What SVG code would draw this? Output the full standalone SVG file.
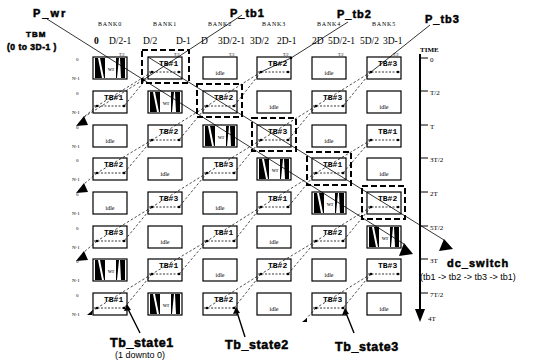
<svg xmlns="http://www.w3.org/2000/svg" width="539" height="364" viewBox="0 0 539 364">
<style>
.bx{fill:#fff;stroke:#000;stroke-width:1.2}
.tb{font-family:"Liberation Mono",monospace;font-weight:bold;font-size:8px;fill:#000}
.it,.wt{font-family:"Liberation Serif",serif;font-size:6px;text-anchor:middle;fill:#000}
.tt{font-family:"Liberation Serif",serif;font-size:4px;fill:#000}
.dl{stroke:#000;stroke-width:0.8;stroke-dasharray:2 1.5}
.dt{fill:#000}
.rl{font-family:"Liberation Serif",serif;font-size:5px;fill:#000}
.hd{font-family:"Liberation Serif",serif;font-size:6px;letter-spacing:0.8px;text-anchor:middle;fill:#000}
.ad{font-family:"Liberation Serif",serif;font-size:9.5px;fill:#000}
.ax{font-family:"Liberation Serif",serif;font-size:7px;fill:#000}
.big{font-family:"Liberation Sans",Arial,sans-serif;font-weight:bold;fill:#000;stroke:#000;stroke-width:0.5}
.sm{font-family:"Liberation Sans",Arial,sans-serif;font-size:9px;fill:#000}
.ch{fill:none;stroke:#000;stroke-width:0.7;stroke-dasharray:2.5 2}
.sl{fill:none;stroke:#000;stroke-width:0.8}
.tp{fill:none;stroke:#000;stroke-width:1.4}
.hl{fill:none;stroke:#000;stroke-width:2;stroke-dasharray:6 3}
.ah{fill:#000}
</style>
<defs>
<g id="wrm">
<path fill="#000" d="M2,1 L5,1 L9,21 L2,21 Z M7,1 L12,1 L12,21 L11,21 Z M23,1 L26,1 L24,21 L23,21 Z M27,1 L32,1 L32,21 L28,21 Z"/>
</g>
</defs>

<!-- labels -->
<g id="labels">
<text class="big" x="33" y="17" font-size="11" letter-spacing="2">P_wr</text>
<text class="big" x="26" y="37" font-size="8" letter-spacing="1">TBM</text>
<text class="big" x="7" y="50" font-size="8.5" letter-spacing="0.5">(0 to 3D-1 )</text>
<text class="big" x="230" y="17" font-size="11" letter-spacing="1">P_tb1</text>
<text class="big" x="337" y="18" font-size="11" letter-spacing="1">P_tb2</text>
<text class="big" x="425" y="23" font-size="11" letter-spacing="1">P_tb3</text>
<text class="big" x="447" y="267" font-size="11" letter-spacing="1">dc_switch</text>
<text class="sm" x="420" y="280">(tb1 -&gt; tb2 -&gt; tb3 -&gt; tb1)</text>
<text class="big" x="110" y="347" font-size="12.5" letter-spacing="0.6">Tb_state1</text>
<text class="sm" x="115" y="358">(1 downto 0)</text>
<text class="big" x="225" y="349" font-size="12.5" letter-spacing="0.6">Tb_state2</text>
<text class="big" x="335" y="351" font-size="12.5" letter-spacing="0.6">Tb_state3</text>
<text class="hd" x="110" y="26">BANK0</text>
<text class="hd" x="165" y="26">BANK1</text>
<text class="hd" x="220" y="26">BANK2</text>
<text class="hd" x="274" y="26">BANK3</text>
<text class="hd" x="329" y="26">BANK4</text>
<text class="hd" x="384" y="26">BANK5</text>
<text class="ad" x="94" y="44" font-weight="bold">0</text>
<text class="ad" x="109" y="44">D/2-1</text>
<text class="ad" x="143" y="44">D/2</text>
<text class="ad" x="176" y="44">D-1</text>
<text class="ad" x="201" y="44">D</text>
<text class="ad" x="218" y="44">3D/2-1</text>
<text class="ad" x="250" y="44">3D/2</text>
<text class="ad" x="277" y="44">2D-1</text>
<text class="ad" x="312" y="44">2D</text>
<text class="ad" x="328" y="44">5D/2-1</text>
<text class="ad" x="360" y="44">5D/2</text>
<text class="ad" x="383" y="44">3D-1</text>
<text class="rl" x="76" y="61">0</text><text class="rl" x="72" y="80">N-1</text>
<text class="rl" x="76" y="95">0</text><text class="rl" x="72" y="114">N-1</text>
<text class="rl" x="76" y="129">0</text><text class="rl" x="72" y="148">N-1</text>
<text class="rl" x="76" y="162">0</text><text class="rl" x="72" y="181">N-1</text>
<text class="rl" x="76" y="196">0</text><text class="rl" x="72" y="215">N-1</text>
<text class="rl" x="76" y="230">0</text><text class="rl" x="72" y="249">N-1</text>
<text class="rl" x="76" y="263">0</text><text class="rl" x="72" y="282">N-1</text>
<text class="rl" x="76" y="297">0</text><text class="rl" x="72" y="316">N-1</text>
</g>

<!-- time axis -->
<g id="time-axis">
<text class="ax" x="420" y="52" font-size="5.5" font-weight="bold">TIME</text>
<line x1="420" y1="54" x2="420" y2="312" stroke="#000" stroke-width="2"/>
<polygon class="ah" points="415,309 425,309 420,322"/>
<path d="M420,58 H428 M420,91 H428 M420,125 H428 M420,158 H428 M420,192 H428 M420,226 H428 M420,259 H428 M420,293 H428" stroke="#000" stroke-width="1.2"/>
<text class="ax" x="430" y="62">0</text>
<text class="ax" x="430" y="95">T/2</text>
<text class="ax" x="430" y="129">T</text>
<text class="ax" x="430" y="162">3T/2</text>
<text class="ax" x="430" y="196">2T</text>
<text class="ax" x="430" y="230">5T/2</text>
<text class="ax" x="430" y="263">3T</text>
<text class="ax" x="430" y="297">7T/2</text>
<text class="ax" x="428" y="321">4T</text>
</g>

<!-- row 0 -->
<g id="r0c0" transform="translate(93,57)"><rect class="bx" width="34" height="22"/><use href="#wrm"/><text class="wt" x="18" y="14">wr</text><text class="tt" x="26" y="-1">T/2</text></g>
<g id="r0c1" transform="translate(148,57)"><rect class="bx" width="34" height="22"/><text class="tb" x="11" y="9">TB#1</text><line class="dl" x1="1" y1="15" x2="33" y2="15"/><circle class="dt" cx="4" cy="15" r="1.3"/><circle class="dt" cx="31" cy="15" r="1.3"/><text class="tt" x="26" y="-1">T/2</text></g>
<g id="r0c2" transform="translate(203,57)"><rect class="bx" width="34" height="22"/><text class="it" x="17" y="18">idle</text><text class="tt" x="26" y="-1">T/2</text></g>
<g id="r0c3" transform="translate(257,57)"><rect class="bx" width="34" height="22"/><text class="tb" x="11" y="9">TB#2</text><line class="dl" x1="1" y1="15" x2="33" y2="15"/><circle class="dt" cx="4" cy="15" r="1.3"/><circle class="dt" cx="31" cy="15" r="1.3"/><text class="tt" x="26" y="-1">T/2</text></g>
<g id="r0c4" transform="translate(312,57)"><rect class="bx" width="34" height="22"/><text class="it" x="17" y="18">idle</text><text class="tt" x="26" y="-1">T/2</text></g>
<g id="r0c5" transform="translate(367,57)"><rect class="bx" width="34" height="22"/><text class="tb" x="11" y="9">TB#3</text><line class="dl" x1="1" y1="15" x2="33" y2="15"/><circle class="dt" cx="4" cy="15" r="1.3"/><circle class="dt" cx="31" cy="15" r="1.3"/><text class="tt" x="26" y="-1">T/2</text></g>
<!-- row 1 -->
<g id="r1c0" transform="translate(93,91)"><rect class="bx" width="34" height="22"/><text class="tb" x="11" y="9">TB#1</text><line class="dl" x1="1" y1="15" x2="33" y2="15"/><circle class="dt" cx="4" cy="15" r="1.3"/><circle class="dt" cx="31" cy="15" r="1.3"/></g>
<g id="r1c1" transform="translate(148,91)"><rect class="bx" width="34" height="22"/><use href="#wrm"/><text class="wt" x="18" y="14">wr</text></g>
<g id="r1c2" transform="translate(203,91)"><rect class="bx" width="34" height="22"/><text class="tb" x="11" y="9">TB#2</text><line class="dl" x1="1" y1="15" x2="33" y2="15"/><circle class="dt" cx="4" cy="15" r="1.3"/><circle class="dt" cx="31" cy="15" r="1.3"/></g>
<g id="r1c3" transform="translate(257,91)"><rect class="bx" width="34" height="22"/><text class="it" x="17" y="18">idle</text></g>
<g id="r1c4" transform="translate(312,91)"><rect class="bx" width="34" height="22"/><text class="tb" x="11" y="9">TB#3</text><line class="dl" x1="1" y1="15" x2="33" y2="15"/><circle class="dt" cx="4" cy="15" r="1.3"/><circle class="dt" cx="31" cy="15" r="1.3"/></g>
<g id="r1c5" transform="translate(367,91)"><rect class="bx" width="34" height="22"/><text class="it" x="17" y="18">idle</text></g>
<!-- row 2 -->
<g id="r2c0" transform="translate(93,125)"><rect class="bx" width="34" height="22"/><text class="it" x="17" y="18">idle</text></g>
<g id="r2c1" transform="translate(148,125)"><rect class="bx" width="34" height="22"/><text class="tb" x="11" y="9">TB#2</text><line class="dl" x1="1" y1="15" x2="33" y2="15"/><circle class="dt" cx="4" cy="15" r="1.3"/><circle class="dt" cx="31" cy="15" r="1.3"/></g>
<g id="r2c2" transform="translate(203,125)"><rect class="bx" width="34" height="22"/><use href="#wrm"/><text class="wt" x="18" y="14">wr</text></g>
<g id="r2c3" transform="translate(257,125)"><rect class="bx" width="34" height="22"/><text class="tb" x="11" y="9">TB#3</text><line class="dl" x1="1" y1="15" x2="33" y2="15"/><circle class="dt" cx="4" cy="15" r="1.3"/><circle class="dt" cx="31" cy="15" r="1.3"/></g>
<g id="r2c4" transform="translate(312,125)"><rect class="bx" width="34" height="22"/><text class="it" x="17" y="18">idle</text></g>
<g id="r2c5" transform="translate(367,125)"><rect class="bx" width="34" height="22"/><text class="tb" x="11" y="9">TB#1</text><line class="dl" x1="1" y1="15" x2="33" y2="15"/><circle class="dt" cx="4" cy="15" r="1.3"/><circle class="dt" cx="31" cy="15" r="1.3"/></g>
<!-- row 3 -->
<g id="r3c0" transform="translate(93,158)"><rect class="bx" width="34" height="22"/><text class="tb" x="11" y="9">TB#2</text><line class="dl" x1="1" y1="15" x2="33" y2="15"/><circle class="dt" cx="4" cy="15" r="1.3"/><circle class="dt" cx="31" cy="15" r="1.3"/></g>
<g id="r3c1" transform="translate(148,158)"><rect class="bx" width="34" height="22"/><text class="it" x="17" y="18">idle</text></g>
<g id="r3c2" transform="translate(203,158)"><rect class="bx" width="34" height="22"/><text class="tb" x="11" y="9">TB#3</text><line class="dl" x1="1" y1="15" x2="33" y2="15"/><circle class="dt" cx="4" cy="15" r="1.3"/><circle class="dt" cx="31" cy="15" r="1.3"/></g>
<g id="r3c3" transform="translate(257,158)"><rect class="bx" width="34" height="22"/><use href="#wrm"/><text class="wt" x="18" y="14">wr</text></g>
<g id="r3c4" transform="translate(312,158)"><rect class="bx" width="34" height="22"/><text class="tb" x="11" y="9">TB#1</text><line class="dl" x1="1" y1="15" x2="33" y2="15"/><circle class="dt" cx="4" cy="15" r="1.3"/><circle class="dt" cx="31" cy="15" r="1.3"/></g>
<g id="r3c5" transform="translate(367,158)"><rect class="bx" width="34" height="22"/><text class="it" x="17" y="18">idle</text></g>
<!-- row 4 -->
<g id="r4c0" transform="translate(93,192)"><rect class="bx" width="34" height="22"/><text class="it" x="17" y="18">idle</text></g>
<g id="r4c1" transform="translate(148,192)"><rect class="bx" width="34" height="22"/><text class="tb" x="11" y="9">TB#3</text><line class="dl" x1="1" y1="15" x2="33" y2="15"/><circle class="dt" cx="4" cy="15" r="1.3"/><circle class="dt" cx="31" cy="15" r="1.3"/></g>
<g id="r4c2" transform="translate(203,192)"><rect class="bx" width="34" height="22"/><text class="it" x="17" y="18">idle</text></g>
<g id="r4c3" transform="translate(257,192)"><rect class="bx" width="34" height="22"/><text class="tb" x="11" y="9">TB#1</text><line class="dl" x1="1" y1="15" x2="33" y2="15"/><circle class="dt" cx="4" cy="15" r="1.3"/><circle class="dt" cx="31" cy="15" r="1.3"/></g>
<g id="r4c4" transform="translate(312,192)"><rect class="bx" width="34" height="22"/><use href="#wrm"/><text class="wt" x="18" y="14">wr</text></g>
<g id="r4c5" transform="translate(367,192)"><rect class="bx" width="34" height="22"/><text class="tb" x="11" y="9">TB#2</text><line class="dl" x1="1" y1="15" x2="33" y2="15"/><circle class="dt" cx="4" cy="15" r="1.3"/><circle class="dt" cx="31" cy="15" r="1.3"/></g>
<!-- row 5 -->
<g id="r5c0" transform="translate(93,226)"><rect class="bx" width="34" height="22"/><text class="tb" x="11" y="9">TB#3</text><line class="dl" x1="1" y1="15" x2="33" y2="15"/><circle class="dt" cx="4" cy="15" r="1.3"/><circle class="dt" cx="31" cy="15" r="1.3"/></g>
<g id="r5c1" transform="translate(148,226)"><rect class="bx" width="34" height="22"/><text class="it" x="17" y="18">idle</text></g>
<g id="r5c2" transform="translate(203,226)"><rect class="bx" width="34" height="22"/><text class="tb" x="11" y="9">TB#1</text><line class="dl" x1="1" y1="15" x2="33" y2="15"/><circle class="dt" cx="4" cy="15" r="1.3"/><circle class="dt" cx="31" cy="15" r="1.3"/></g>
<g id="r5c3" transform="translate(257,226)"><rect class="bx" width="34" height="22"/><text class="it" x="17" y="18">idle</text></g>
<g id="r5c4" transform="translate(312,226)"><rect class="bx" width="34" height="22"/><text class="tb" x="11" y="9">TB#2</text><line class="dl" x1="1" y1="15" x2="33" y2="15"/><circle class="dt" cx="4" cy="15" r="1.3"/><circle class="dt" cx="31" cy="15" r="1.3"/></g>
<g id="r5c5" transform="translate(367,226)"><rect class="bx" width="34" height="22"/><use href="#wrm"/><text class="wt" x="18" y="14">wr</text></g>
<!-- row 6 -->
<g id="r6c0" transform="translate(93,259)"><rect class="bx" width="34" height="22"/><use href="#wrm"/><text class="wt" x="18" y="14">wr</text></g>
<g id="r6c1" transform="translate(148,259)"><rect class="bx" width="34" height="22"/><text class="tb" x="11" y="9">TB#1</text><line class="dl" x1="1" y1="15" x2="33" y2="15"/><circle class="dt" cx="4" cy="15" r="1.3"/><circle class="dt" cx="31" cy="15" r="1.3"/></g>
<g id="r6c2" transform="translate(203,259)"><rect class="bx" width="34" height="22"/><text class="it" x="17" y="18">idle</text></g>
<g id="r6c3" transform="translate(257,259)"><rect class="bx" width="34" height="22"/><text class="tb" x="11" y="9">TB#2</text><line class="dl" x1="1" y1="15" x2="33" y2="15"/><circle class="dt" cx="4" cy="15" r="1.3"/><circle class="dt" cx="31" cy="15" r="1.3"/></g>
<g id="r6c4" transform="translate(312,259)"><rect class="bx" width="34" height="22"/><text class="it" x="17" y="18">idle</text></g>
<g id="r6c5" transform="translate(367,259)"><rect class="bx" width="34" height="22"/><text class="tb" x="11" y="9">TB#3</text><line class="dl" x1="1" y1="15" x2="33" y2="15"/><circle class="dt" cx="4" cy="15" r="1.3"/><circle class="dt" cx="31" cy="15" r="1.3"/></g>
<!-- row 7 -->
<g id="r7c0" transform="translate(93,293)"><rect class="bx" width="34" height="22"/><text class="tb" x="11" y="9">TB#1</text><line class="dl" x1="1" y1="15" x2="33" y2="15"/><circle class="dt" cx="4" cy="15" r="1.3"/><circle class="dt" cx="31" cy="15" r="1.3"/></g>
<g id="r7c1" transform="translate(148,293)"><rect class="bx" width="34" height="22"/><use href="#wrm"/><text class="wt" x="18" y="14">wr</text></g>
<g id="r7c2" transform="translate(203,293)"><rect class="bx" width="34" height="22"/><text class="tb" x="11" y="9">TB#2</text><line class="dl" x1="1" y1="15" x2="33" y2="15"/><circle class="dt" cx="4" cy="15" r="1.3"/><circle class="dt" cx="31" cy="15" r="1.3"/></g>
<g id="r7c3" transform="translate(257,293)"><rect class="bx" width="34" height="22"/><text class="it" x="17" y="18">idle</text></g>
<g id="r7c4" transform="translate(312,293)"><rect class="bx" width="34" height="22"/><text class="tb" x="11" y="9">TB#3</text><line class="dl" x1="1" y1="15" x2="33" y2="15"/><circle class="dt" cx="4" cy="15" r="1.3"/><circle class="dt" cx="31" cy="15" r="1.3"/></g>
<g id="r7c5" transform="translate(367,293)"><rect class="bx" width="34" height="22"/><text class="it" x="17" y="18">idle</text></g>

<!-- dc_switch highlights -->
<g id="highlights">
<rect class="hl" x="142" y="50" width="47" height="33"/>
<rect class="hl" x="197" y="84" width="45" height="33"/>
<rect class="hl" x="252" y="118" width="44" height="33"/>
<rect class="hl" x="307" y="152" width="44" height="33"/>
<rect class="hl" x="362" y="186" width="43" height="33"/>
</g>

<!-- connectors -->
<g id="connectors">
<path class="ch" d="M152,72 L124,106 M152,72 L97,106 M143,80 L84,117 M97,106 L84,117
M261,72 L234,106 M261,72 L207,106 M207,106 L179,140 M207,106 L152,140 M152,140 L124,173 M152,140 L97,173 M97,173 L84,184
M371,72 L343,106 M371,72 L316,106 M316,106 L288,140 M316,106 L261,140 M261,140 L234,173 M261,140 L207,173 M207,173 L179,207 M207,173 L152,207 M152,207 L124,241 M152,207 L97,241 M97,241 L84,252
M371,140 L343,173 M371,140 L316,173 M316,173 L288,207 M316,173 L261,207 M261,207 L234,241 M261,207 L207,241 M207,241 L179,274 M207,241 L152,274 M152,274 L124,308 M152,274 L97,308 M97,308 L91,312
M371,207 L343,241 M371,207 L316,241 M316,241 L288,274 M316,241 L261,274 M261,274 L234,308 M261,274 L207,308
M371,274 L343,308 M371,274 L316,308 M316,308 L306,319"/>
<path class="sl" d="M47,19 L404,244 M148,57 L444,240 M242,15 L143,80 M348,22 L291,58 L261,72 M430,25 L371,72"/>
<circle class="dt" cx="143" cy="80" r="1.8"/>
<circle class="dt" cx="291" cy="58" r="1.3"/>
<polygon class="ah" points="84,116 76,126 88,125"/>
<polygon class="ah" points="84,183 76,193 88,192"/>
<polygon class="ah" points="84,251 76,261 88,260"/>
<polygon class="ah" points="93,310 87,315 92,315"/>
<polygon class="ah" points="307,318 302,322 307,322"/>
<polygon class="ah" points="404,243 399,256 413,254"/>
<polygon class="ah" points="444,239 439,251 453,249"/>
<path class="tp" d="M140,333 L128,309 M245,337 L237,312 M354,333 L346,313"/>
<polygon class="ah" points="127,304 124,311 131,310"/>
<polygon class="ah" points="236,307 233,314 240,313"/>
<polygon class="ah" points="345,308 342,315 349,314"/>
</g>
</svg>
